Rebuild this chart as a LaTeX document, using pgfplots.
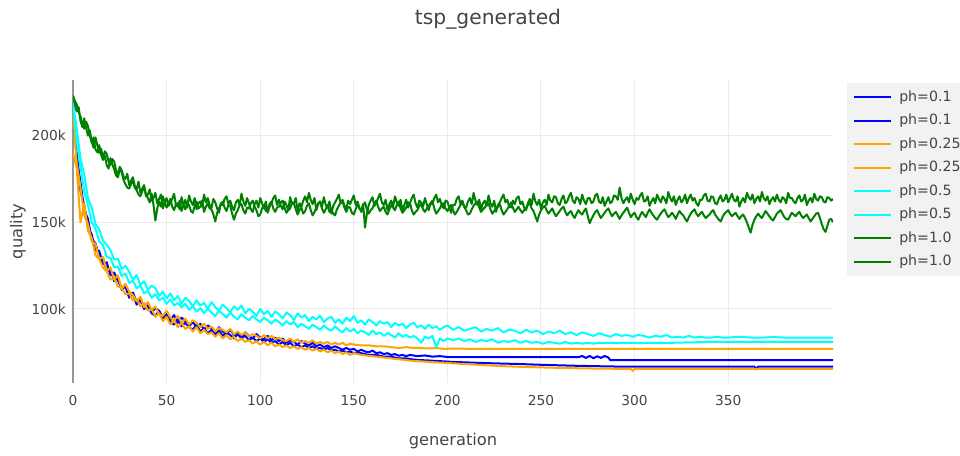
\documentclass[border=0pt]{standalone}
\usepackage{fontspec}
\setmainfont{DejaVu Sans}
\usepackage{pgfplots}
\pgfplotsset{compat=1.18}

\definecolor{pblue}{RGB}{0,0,255}
\definecolor{porange}{RGB}{255,165,0}
\definecolor{pcyan}{RGB}{0,255,255}
\definecolor{pgreen}{RGB}{0,128,0}
\definecolor{txt}{RGB}{68,68,68}
\definecolor{gridc}{RGB}{235,235,235}
\definecolor{zeroc}{RGB}{150,150,150}
\definecolor{legbg}{RGB}{242,242,242}

\begin{document}
\begin{tikzpicture}
\useasboundingbox (0,0) rectangle (720pt,341.25pt);
\node[font=\fontsize{15.2}{18}\selectfont, text=txt] at (366pt,326.5pt) {tsp\_generated};
\begin{axis}[
    at={(54.75pt,54pt)}, anchor=south west,
    scale only axis, width=570pt, height=227.25pt,
    xmin=0, xmax=406, ymin=57.3, ymax=232.1,
    axis line style={draw=none},
    major tick length=0pt,
    xtick={50,100,...,350},
    extra x ticks={0}, extra x tick labels={0},
    extra x tick style={major grid style={color=zeroc, line width=1.3pt}},
    ytick={100,150,200}, yticklabels={100k,150k,200k},
    grid=major, major grid style={color=gridc, line width=0.75pt},
    /pgf/number format/assume math mode=true,
    tick label style={font=\fontsize{10.3}{12}\selectfont, text=txt, inner sep=0pt},
    xticklabel style={anchor=center, yshift=-13pt},
    yticklabel style={anchor=east, xshift=-5.25pt},
    xlabel={generation}, ylabel={quality},
    label style={font=\fontsize{12.2}{14}\selectfont, text=txt},
    xlabel style={at={(axis description cs:0.5,-0.1914)}, anchor=center},
    ylabel style={at={(axis description cs:-0.0724,0.5)}, anchor=center},
    legend style={at={(axis description cs:1.0184,0.99)}, anchor=north west,
        fill=legbg, draw=none, font=\fontsize{10.6}{12}\selectfont, text=txt,
        inner xsep=4.5pt, inner ysep=5.5pt, row sep=7.4pt, column sep=5.25pt,
        nodes={inner sep=0pt, text height=8pt, text depth=2.2pt}},
    legend cell align=left,
    legend image code/.code={\draw[#1] (0pt,0pt) -- (27.75pt,0pt);},
    every axis plot/.append style={line width=1.5pt, line join=round, no markers},
]
% ph=0.1
\addplot[pblue] coordinates {(0,215)(2,190)(4,168)(6,160)(8,147)(10,143)(12,134)(14,133.5)(16,126)(18,127)(20,119.5)(22,121)(24,116.5)(26,112)(28,114)(30,107.5)(32,109.5)(34,104)(36,106.5)(38,101)(40,103.5)(42,98)(44,100.5)(46,99)(48,95)(50,98)(52,93.5)(54,96.5)(56,92)(58,95)(60,93)(62,90)(64,92.5)(66,89.5)(68,91.5)(70,88)(72,90.5)(74,89)(76,86.5)(78,89.5)(80,87)(82,85.5)(84,88)(86,85)(88,86.5)(90,84)(92,86.5)(94,84.5)(96,83)(98,85.5)(100,83.5)(102,82.5)(104,84.5)(106,82)(108,83.5)(110,81.5)(112,83)(114,80.5)(116,82)(118,81)(120,79.5)(122,81.5)(124,80)(126,79)(128,80.5)(130,78.5)(132,79.5)(134,78)(136,79)(138,77.5)(140,78.5)(142,77.5)(144,76.5)(146,77.5)(148,76.5)(150,77)(152,75.5)(154,76.5)(156,75.5)(158,75)(160,76)(162,74.5)(164,75)(166,74)(168,74.5)(170,73.5)(172,74)(174,73)(176,73.5)(178,72.8)(180,73.5)(184,72.8)(188,73.2)(192,72.5)(196,72.8)(200,72.3)(206,72.3)(270,72.2)(272,72.9)(274,71.8)(276,72.9)(278,71.6)(280,72.7)(282,71.8)(284,72.9)(286,72)(287,70.5)(406,70.5)};
\addplot[pblue] coordinates {(0,215)(2,187)(4,173)(6,157)(8,152)(10,140)(12,138)(14,130)(16,129.5)(18,122.5)(20,123)(22,116)(24,118.5)(26,111)(28,113)(30,106.5)(32,109)(34,102.5)(36,105)(38,100)(40,102)(42,97.5)(44,96)(46,99)(48,94)(50,96.5)(52,92.5)(54,91)(56,94)(58,90)(60,92)(62,89.5)(64,88)(66,91)(68,87)(70,89)(72,86)(74,88)(76,85.5)(78,87.5)(80,84.5)(82,86.5)(84,85)(86,83)(88,85.5)(90,83)(92,84.5)(94,82)(96,83.5)(98,81.5)(100,83)(102,81)(104,82.5)(106,80.5)(108,81.5)(110,79.5)(112,81)(114,79)(116,80.5)(118,78.5)(120,79.5)(122,78)(124,79)(126,77.5)(128,78.5)(130,77)(132,77.5)(134,76.5)(136,77.5)(138,76)(140,76.5)(142,75.5)(144,76)(146,75)(148,75.5)(150,74.5)(154,74.5)(158,73.5)(162,73.5)(166,72.5)(170,72.5)(174,71.5)(178,71.5)(182,70.8)(186,70.5)(190,70.3)(194,70)(198,69.8)(202,69.5)(210,69.2)(220,68.8)(230,68.5)(240,68.2)(250,67.8)(260,67.5)(270,67.2)(280,67)(290,66.8)(364,66.8)(365,65.2)(366,66.8)(406,66.8)};
% ph=0.25
\addplot[porange] coordinates {(0,214)(2,184)(4,170)(6,154)(8,149)(10,139)(12,137.5)(14,129)(16,130)(18,122)(20,124)(22,117)(24,119.5)(26,111.5)(28,114.5)(30,110)(32,108)(34,104.5)(36,107)(38,101)(40,104)(42,99.5)(44,101.5)(46,97)(48,96)(50,99)(52,95)(54,93.5)(56,96)(58,92)(60,94.5)(62,91)(64,93.5)(66,92)(68,89.5)(70,91.5)(72,88.5)(74,90)(76,87)(78,89)(80,88)(82,86.5)(84,88.5)(86,85.5)(88,87)(90,85)(92,86.5)(94,84)(96,85.5)(98,84.5)(100,83)(102,85)(104,83)(106,84.5)(108,82.5)(110,83.5)(112,82)(114,81.5)(116,83)(118,81)(120,82.5)(122,80.5)(124,81.5)(126,80.5)(128,82)(130,80)(132,81)(134,80)(136,81)(138,79.5)(140,80.5)(142,79.5)(144,80.5)(146,79)(148,80)(150,79.5)(154,79)(158,79)(162,78.5)(166,78.5)(170,78)(174,77.5)(178,78)(182,77.5)(186,77.5)(190,77.2)(194,77.5)(198,77)(204,77.2)(212,77)(406,77)};
\addplot[porange] coordinates {(0,190)(2,181)(4,150)(6,161)(8,145)(10,141)(12,131)(14,129)(16,124)(18,121.5)(20,117)(22,117.5)(24,113)(26,112)(28,108.5)(30,109)(32,105)(34,106)(36,101.5)(38,103.5)(40,99)(42,100)(44,95.5)(46,97.5)(48,93)(50,95.5)(52,91)(54,93.5)(56,89.5)(58,92)(60,88.5)(62,90)(64,87)(66,89.5)(68,86)(70,88)(72,85.5)(74,86.5)(76,84)(78,86)(80,83)(82,85)(84,82.5)(86,84)(88,81.5)(90,83)(92,81)(94,82)(96,80)(98,81.5)(100,79.5)(102,81)(104,79)(106,80.5)(108,78.5)(110,79.5)(112,78)(114,79)(116,77.5)(118,78.5)(120,77)(122,78)(124,76.5)(126,77.5)(128,76)(130,77)(132,75.5)(134,76.5)(136,75)(138,76)(140,74.5)(142,75.5)(144,74)(146,75)(148,73.5)(150,74.5)(154,73.5)(158,73)(162,72.5)(166,72)(170,71.5)(174,71)(178,70.5)(182,70)(186,69.8)(190,69.5)(194,69.2)(198,69)(202,68.7)(210,68.2)(220,67.6)(230,67)(240,66.6)(250,66.3)(260,66)(270,65.8)(280,65.6)(290,65.5)(298,65.5)(299,64.3)(300,65.5)(406,65.5)};
% ph=0.5
\addplot[pcyan] coordinates {(0,219)(2,204)(4,187)(6,177.5)(8,164)(10,158.5)(12,149)(14,146)(16,139.5)(18,137)(20,134)(22,128.5)(24,129)(26,123)(28,125)(30,121.5)(32,117)(34,119.5)(36,114)(38,116)(40,111)(42,113.5)(44,112)(46,107.5)(48,110)(50,106)(52,109)(54,105)(56,107.5)(58,103)(60,106.5)(62,104.5)(64,101.5)(66,105)(68,102)(70,103.5)(72,100)(74,104)(76,101)(78,99)(80,102.5)(82,100.5)(84,98)(86,101.5)(88,99.5)(90,102)(92,97.5)(94,100)(96,98.5)(98,96)(100,100)(102,97)(104,99)(106,95.5)(108,98.5)(110,97)(112,94.5)(114,98)(116,96.5)(118,93.5)(120,97.5)(122,95)(124,96.5)(126,93)(128,95.5)(130,94)(132,96)(134,92.5)(136,94.5)(138,95.5)(140,92)(142,94)(144,91.5)(146,95)(148,93)(150,96)(152,92)(154,93.5)(156,91)(158,94)(160,92.5)(162,90.5)(164,93)(166,91.5)(168,92.5)(170,89.5)(172,92)(174,90.5)(176,91.5)(178,89)(180,91)(182,92)(184,89.5)(186,90.5)(188,88.5)(190,91)(192,89)(194,90)(196,88)(198,89.5)(200,90.5)(203,88)(206,89.5)(209,87.5)(212,88.5)(215,89.5)(218,87)(221,88.5)(224,87.5)(227,89)(230,86.5)(233,88)(236,87.5)(239,86)(242,88)(245,86.5)(248,87.5)(251,85.5)(254,87)(257,86)(260,87.5)(263,85.5)(266,86.5)(269,85)(272,86.5)(275,85.5)(278,84.5)(281,86)(284,85)(287,84)(290,85.5)(293,84.5)(296,85)(299,84)(302,85)(305,84.5)(308,83.5)(311,84.5)(314,84)(317,85)(320,83.5)(323,84)(326,83.5)(329,84.5)(332,83.5)(335,84)(338,83.5)(341,83.5)(344,84)(347,83.5)(350,83.5)(356,84)(362,83.5)(368,83.5)(374,83.8)(380,83.5)(386,83.5)(392,83.5)(406,83.5)};
\addplot[pcyan] coordinates {(0,219)(2,197)(4,182)(6,168)(8,160)(10,150)(12,146.5)(14,139)(16,137)(18,130)(20,129.5)(22,124)(24,124.5)(26,119)(28,120.5)(30,115)(32,116.5)(34,112)(36,113.5)(38,109)(40,110.5)(42,106.5)(44,108.5)(46,105)(48,106.5)(50,103)(52,105.5)(54,102)(56,103.5)(58,101)(60,103)(62,99.5)(64,101.5)(66,98.5)(68,100.5)(70,97.5)(72,100)(74,98)(76,96)(78,99)(80,97)(82,95)(84,98)(86,95.5)(88,94)(90,97)(92,95)(94,93.5)(96,96)(98,94)(100,92.5)(102,95)(104,93.5)(106,91.5)(108,94)(110,92.5)(112,90.5)(114,93)(116,91)(118,92.5)(120,89.5)(122,91.5)(124,90)(126,88.5)(128,91)(130,89.5)(132,88)(134,90.5)(136,88.5)(138,87.5)(140,90)(142,88)(144,86.5)(146,89)(148,87)(150,88.5)(152,86)(154,87.5)(156,86.5)(158,85)(160,87.5)(162,85.5)(164,86.5)(166,84.5)(168,86)(170,85)(172,83.5)(174,86)(176,84)(178,85)(180,83.5)(182,84.5)(184,83)(186,80.5)(188,84)(190,83)(192,84.5)(194,78)(196,83)(198,81.5)(200,83)(203,82)(206,83)(209,81.5)(212,82.5)(215,81)(218,82)(221,81.5)(224,82.5)(227,80.5)(230,81.5)(233,81)(236,82)(239,80.5)(242,81.5)(245,80.5)(248,81)(251,80)(254,81)(257,80.5)(260,80)(263,81)(266,80)(269,80.5)(272,80)(275,80.5)(278,80)(281,80.5)(300,80.5)(320,80.5)(340,81)(406,81)};
% ph=1.0
\addplot[pgreen] coordinates {(0,223)(1,218)(2,214)(3,216.5)(4,208.5)(5,205)(6,210)(7,204.5)(8,200)(9,203)(10,196.5)(11,193)(12,199)(13,194.5)(14,190)(15,192.5)(16,187)(17,191)(18,189.5)(19,185)(20,183)(21,186.5)(22,185)(23,180)(24,177.5)(25,182)(26,180)(27,176.5)(28,175)(29,178)(30,171.5)(31,174)(32,176)(33,171)(34,169)(35,173.5)(36,167)(37,169.5)(38,171.5)(39,165)(40,166)(41,169)(42,162.5)(43,164)(44,167)(45,161)(46,163.5)(47,166)(48,158)(49,161.5)(50,164)(51,159.5)(52,161)(53,163.5)(54,166.5)(55,160)(56,159)(57,162.5)(58,156.5)(59,160)(60,163)(61,158.5)(62,165.5)(63,162)(64,160)(65,164)(66,157.5)(67,161)(68,162)(69,159)(70,166)(71,161.5)(72,164)(73,160)(74,158.5)(75,163.5)(76,161.5)(77,158)(78,155.5)(79,161)(80,160)(81,163.5)(82,165)(83,160.5)(84,162.5)(85,159)(86,157)(87,161.5)(88,163)(89,160)(90,166.5)(91,162)(92,159.5)(93,164)(94,161)(95,157.5)(96,156)(97,160.5)(98,162.5)(99,158.5)(100,164)(101,161)(102,158)(103,162)(104,155.5)(105,159)(106,161)(107,164)(108,165.5)(109,160)(110,163)(111,159.5)(112,157.5)(113,162)(114,160)(115,157)(116,164.5)(117,160.5)(118,161)(119,164)(120,156.5)(121,161)(122,159)(123,162.5)(124,165)(125,161.5)(126,167)(127,163)(128,160.5)(129,164)(130,157)(131,160.5)(132,162)(133,159)(134,164.5)(135,160)(136,158.5)(137,162)(138,155)(139,159.5)(140,161.5)(141,163.5)(142,166)(143,161)(144,163)(145,159.5)(146,158)(147,162.5)(148,160.5)(149,163)(150,165.5)(151,160)(152,162)(153,158.5)(154,156)(155,160.5)(156,147)(157,155)(158,160)(159,162.5)(160,164.5)(161,159.5)(162,161)(163,164)(164,166.5)(165,161.5)(166,160)(167,163)(168,157)(169,160.5)(170,162.5)(171,159)(172,165)(173,161.5)(174,159.5)(175,163)(176,156.5)(177,160)(178,163)(179,158.5)(180,161)(181,164)(182,166)(183,161)(184,158.5)(185,162.5)(186,161.5)(187,159)(188,164)(189,160.5)(190,157)(191,161)(192,160.5)(193,164)(194,166)(195,161.5)(196,163.5)(197,160)(198,158)(199,162.5)(200,162)(201,158.5)(202,155.5)(203,160)(204,160)(205,163.5)(206,165)(207,160.5)(208,162.5)(209,159)(210,158.5)(211,162)(212,164)(213,160.5)(214,167)(215,162.5)(216,160)(217,163)(218,157.5)(219,161)(220,162.5)(221,159.5)(222,165.5)(223,161)(224,159)(225,162.5)(226,156)(227,160)(228,161.5)(229,164)(230,166)(231,161.5)(232,163)(233,159)(234,158.5)(235,162.5)(236,160.5)(237,164)(238,165)(239,160.5)(240,162)(241,158.5)(242,157)(243,161)(244,163.5)(245,160)(246,166.5)(247,162)(248,160)(249,163)(250,158)(251,161.5)(252,163)(253,160)(254,166)(255,162.5)(256,161.5)(257,165)(258,164.5)(259,161)(260,160)(261,163.5)(262,165.5)(263,161)(264,162)(265,165)(266,167)(267,162.5)(268,161)(269,164.5)(270,163.5)(271,160.5)(272,166)(273,162.5)(274,160.5)(275,164)(276,164)(277,161)(278,162)(279,165.5)(280,166.5)(281,162)(282,161)(283,164.5)(284,159.5)(285,162)(286,164.5)(287,161)(288,162)(289,165.5)(290,165)(291,163)(292,170)(293,164)(294,161)(295,163)(296,164.5)(297,161.5)(298,166.5)(299,163)(300,160.5)(301,164)(302,163)(303,165.5)(304,167)(305,162)(306,162.5)(307,165)(308,159.5)(309,162)(310,164)(311,161)(312,166)(313,163.5)(314,161.5)(315,165)(316,163.5)(317,161)(318,167.5)(319,164)(320,162)(321,165)(322,160)(323,163)(324,165)(325,161.5)(326,163)(327,166)(328,161)(329,164)(330,166)(331,162.5)(332,164)(333,161)(334,159.5)(335,163)(336,163)(337,165.5)(338,166.5)(339,162.5)(340,162)(341,165)(342,164.5)(343,161)(344,160.5)(345,163.5)(346,165.5)(347,162)(348,163)(349,166)(350,161.5)(351,164)(352,166.5)(353,163)(354,162)(355,165)(356,159)(357,162)(358,164)(359,161.5)(360,167)(361,164.5)(362,163)(363,166)(364,161)(365,163.5)(366,165)(367,162)(368,167.5)(369,164)(370,162.5)(371,165)(372,160.5)(373,163)(374,164.5)(375,162)(376,166)(377,163)(378,161.5)(379,164.5)(380,163.5)(381,161)(382,167)(383,164)(384,164)(385,162)(386,161)(387,164)(388,165.5)(389,162)(390,163)(391,166)(392,160)(393,162.5)(394,164)(395,161.5)(396,166.5)(397,163.5)(398,162.5)(399,165)(400,164.5)(401,162)(402,161.5)(403,164.5)(404,164)(405,162.5)(406,163.5)};
\addplot[pgreen] coordinates {(0,223)(1,220)(2,218)(3,213.5)(4,211)(5,207)(6,204)(7,208)(8,205.5)(9,200)(10,196)(11,199)(12,192)(13,190.5)(14,194.5)(15,189)(16,186)(17,188.5)(18,183)(19,181)(20,187)(21,183.5)(22,180.5)(23,177)(24,176)(25,180.5)(26,179)(27,174.5)(28,172)(29,170)(30,169.5)(31,172)(32,174)(33,170)(34,168.5)(35,166)(36,165)(37,168)(38,170)(39,166)(40,164)(41,161.5)(42,166.5)(43,160)(44,151)(45,158)(46,162)(47,159)(48,165)(49,161.5)(50,158.5)(51,161)(52,163.5)(53,159)(54,157)(55,160.5)(56,161)(57,157.5)(58,164.5)(59,160)(60,157.5)(61,161)(62,160)(63,156.5)(64,155.5)(65,159.5)(66,162)(67,158)(68,159)(69,162.5)(70,156)(71,159)(72,161)(73,158)(74,157.5)(75,154.5)(76,150.5)(77,155.5)(78,158)(79,160.5)(80,162)(81,158.5)(82,156.5)(83,160)(84,159.5)(85,155)(86,151.5)(87,155)(88,157)(89,160)(90,160.5)(91,157)(92,155)(93,158.5)(94,158)(95,161)(96,162.5)(97,159)(98,157)(99,153.5)(100,154.5)(101,158)(102,160)(103,156.5)(104,157.5)(105,160.5)(106,162)(107,158)(108,156)(109,158.5)(110,159)(111,161.5)(112,162.5)(113,158.5)(114,155.5)(115,157)(116,158)(117,161.5)(118,161)(119,157.5)(120,154.5)(121,157)(122,158.5)(123,155)(124,156.5)(125,159.5)(126,161)(127,157)(128,154)(129,156)(130,158.5)(131,161)(132,162)(133,158)(134,155.5)(135,157.5)(136,160)(137,156)(138,157.5)(139,155)(140,154)(141,157.5)(142,159.5)(143,161.5)(144,162)(145,158.5)(146,156)(147,159)(148,158.5)(149,155.5)(150,154.5)(151,157.5)(152,160.5)(153,158)(154,157)(155,160)(156,161.5)(157,157.5)(158,155)(159,157)(160,158)(161,161)(162,162.5)(163,159)(164,156.5)(165,158)(166,159)(167,156)(168,154.5)(169,157.5)(170,160)(171,158.5)(172,157)(173,160)(174,162)(175,158)(176,155.5)(177,157)(178,158.5)(179,161.5)(180,161)(181,157)(182,154.5)(183,156)(184,157)(185,159.5)(186,160.5)(187,157.5)(188,156)(189,158)(190,159.5)(191,161)(192,162.5)(193,158)(194,155)(195,156.5)(196,158)(197,160.5)(198,161)(199,158)(200,156.5)(201,158.5)(202,160)(203,157)(204,154.5)(205,156)(206,158)(207,160)(208,161.5)(209,159)(210,157)(211,154.5)(212,155)(213,157.5)(214,159.5)(215,161)(216,162)(217,158.5)(218,156)(219,157.5)(220,158.5)(221,160.5)(222,161)(223,157.5)(224,155)(225,156.5)(226,158)(227,159)(228,160.5)(229,157)(230,154.5)(231,156)(232,157.5)(233,159.5)(234,161.5)(235,158.5)(236,156)(237,157.5)(238,159)(239,157)(240,155.5)(241,157)(242,158)(243,160)(244,161)(245,158)(246,156.5)(247,153.5)(248,150.5)(249,154.5)(250,157)(251,158.5)(252,159.5)(253,157)(254,155)(255,156.5)(256,158)(257,155.5)(258,153.5)(259,155)(260,156.5)(261,158)(262,159)(263,156)(264,154)(265,155.5)(266,156.5)(267,154)(268,152.5)(269,155)(270,157)(271,155.5)(272,154.5)(273,156.5)(274,158)(275,153.5)(276,149.5)(277,152)(278,154)(279,156)(280,157)(281,154.5)(282,152.5)(283,154)(284,155.5)(285,157)(286,158)(287,155.5)(288,153.5)(289,155)(290,156)(291,154)(292,152)(293,154)(294,155.5)(295,157)(296,158.5)(297,155.5)(298,153)(299,154.5)(300,155.5)(301,153)(302,151.5)(303,154)(304,156)(305,154.5)(306,153)(307,155.5)(308,157.5)(309,155.5)(310,154)(311,152.5)(312,151.5)(313,153.5)(314,155)(315,156.5)(316,157.5)(317,155)(318,153)(319,154)(320,155.5)(321,154)(322,152)(323,154.5)(324,156.5)(325,155)(326,154)(327,152)(328,150.5)(329,153)(330,155)(331,156.5)(332,157.5)(333,155)(334,153.5)(335,155)(336,156)(337,154)(338,152.5)(339,153.5)(340,154.5)(341,156)(342,157)(343,154.5)(344,153)(345,151.5)(346,150.5)(347,153)(348,155)(349,156)(350,157)(351,155)(352,153.5)(353,154.5)(354,155.5)(355,153.5)(356,152)(357,153.5)(358,154.5)(359,152.5)(360,150)(361,147)(362,144)(363,148.5)(364,151.5)(365,153.5)(366,155)(367,153.5)(368,152.5)(369,154.5)(370,156.5)(371,155)(372,153.5)(373,152)(374,151)(375,153)(376,155)(377,156)(378,157)(379,155)(380,153)(381,152)(382,151.5)(383,153.5)(384,155.5)(385,154.5)(386,153.5)(387,155)(388,156)(389,154)(390,152.5)(391,153.5)(392,154.5)(393,152.5)(394,150.5)(395,152)(396,153.5)(397,155)(398,155.5)(399,152.5)(400,149)(401,146)(402,144.5)(403,148)(404,151.5)(405,152)(406,150)};
\legend{ph=0.1,ph=0.1,ph=0.25,ph=0.25,ph=0.5,ph=0.5,ph=1.0,ph=1.0}
\end{axis}
\end{tikzpicture}
\end{document}
